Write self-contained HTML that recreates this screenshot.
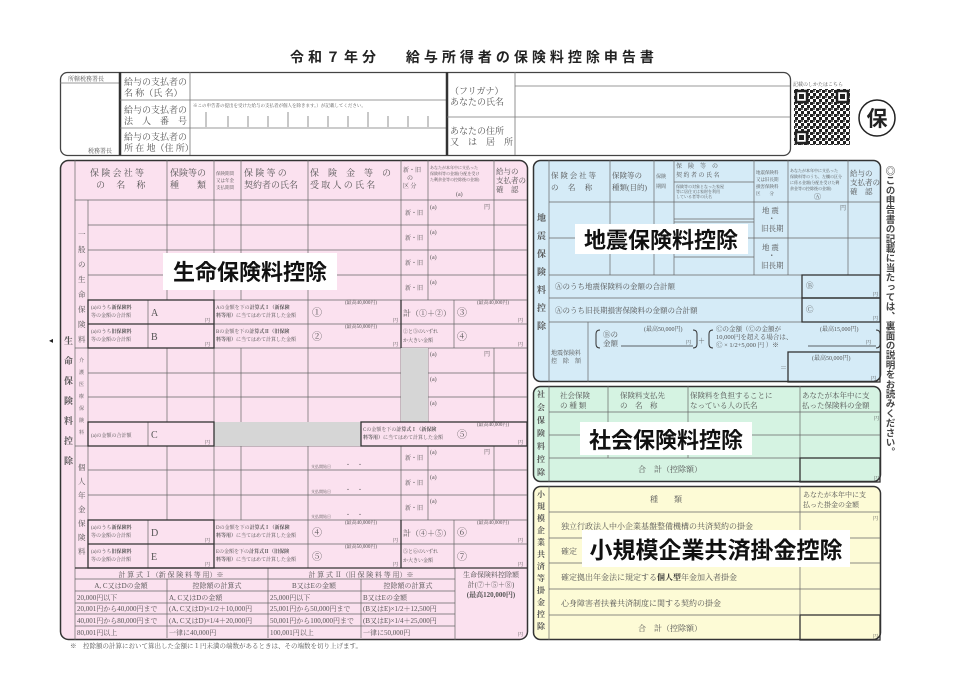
<!DOCTYPE html>
<html><head><meta charset="utf-8"><style>
html,body{margin:0;padding:0;background:#fff;width:960px;height:678px;overflow:hidden}
svg{display:block}
text{font-family:"Liberation Serif","Noto Serif CJK SC","Noto Sans CJK JP",serif;fill:#555}
.s{font-size:9px}.xs{font-size:6px}.t{font-size:7.5px}
.big{font-family:"Liberation Sans","Noto Sans CJK JP",sans-serif;font-weight:bold;fill:#111;font-size:22px}
.vl{font-family:"Liberation Sans","Noto Sans CJK JP",sans-serif;font-weight:bold;fill:#333;font-size:9px}
</style></head><body>
<svg width="960" height="678" viewBox="0 0 960 678" xmlns="http://www.w3.org/2000/svg">
<defs>
<pattern id="qr" width="6" height="6" patternUnits="userSpaceOnUse"><rect width="3" height="3" fill="#222"/><rect x="3" y="3" width="3" height="3" fill="#222"/><rect x="3" y="0" width="2" height="2" fill="#666"/></pattern>
</defs>
<!-- Title -->
<text x="474" y="62" text-anchor="middle" style="font-family:'Liberation Sans','Noto Sans CJK JP',sans-serif;font-weight:bold;font-size:14px;fill:#222;letter-spacing:4px">令和７年分　 給与所得者の保険料控除申告書</text>

<!-- Header box -->
<rect x="60.5" y="72.5" width="730" height="83" rx="7" fill="#fff" stroke="#444" stroke-width="1.3"/>
<g stroke="#777" stroke-width="0.8">
<line x1="60" y1="83" x2="120" y2="83"/>
<line x1="120" y1="72" x2="120" y2="155" stroke="#333" stroke-width="2.5"/>
<line x1="190" y1="72" x2="190" y2="155"/>
<line x1="120" y1="100" x2="447" y2="100"/>
<line x1="120" y1="128" x2="447" y2="128"/>
<line x1="447" y1="72" x2="447" y2="155" stroke="#333" stroke-width="2.5"/>
<line x1="515" y1="72" x2="515" y2="155"/>
<line x1="447" y1="117" x2="790" y2="117"/>
<line x1="515" y1="86" x2="790" y2="86"/>
</g>
<g stroke="#777" stroke-width="0.8">
<line x1="206" y1="112" x2="206" y2="127"/><line x1="228" y1="116" x2="228" y2="127"/><line x1="248" y1="116" x2="248" y2="127"/><line x1="268" y1="116" x2="268" y2="127"/><line x1="288" y1="112" x2="288" y2="127"/><line x1="308" y1="116" x2="308" y2="127"/><line x1="328" y1="116" x2="328" y2="127"/><line x1="348" y1="116" x2="348" y2="127"/><line x1="368" y1="112" x2="368" y2="127"/><line x1="388" y1="116" x2="388" y2="127"/><line x1="408" y1="116" x2="408" y2="127"/><line x1="428" y1="116" x2="428" y2="127"/>
</g>
<text x="68" y="81" class="xs">所轄税務署長</text>
<text x="88" y="153" class="xs">税務署長</text>
<text x="124" y="85" class="s">給与の支払者の</text><text x="124" y="96" class="s">名 称（氏 名）</text>
<text x="124" y="113" class="s">給与の支払者の</text><text x="124" y="124" class="s">法　人　番　号</text>
<text x="124" y="140" class="s">給与の支払者の</text><text x="124" y="151" class="s">所 在 地（住 所）</text>
<text x="193" y="107" style="font-size:4.5px">※この申告書の提出を受けた給与の支払者が個人を除きます。）が記載してください。</text>
<text x="450" y="94" class="s">（フリガナ）</text><text x="450" y="105" class="s">あなたの氏名</text>
<text x="450" y="134" class="s">あなたの住所</text><text x="450" y="145" class="s">又　は　居　所</text>

<!-- QR & circle -->
<text x="793" y="86" style="font-size:5px">記載のしかたはこちら</text>
<rect x="794" y="89" width="56" height="56" fill="url(#qr)"/>
<g fill="#fff" stroke="#222" stroke-width="2.5"><rect x="796" y="91" width="11" height="11"/><rect x="837" y="91" width="11" height="11"/><rect x="796" y="132" width="11" height="11"/></g>
<g fill="#222"><rect x="799" y="94" width="5" height="5"/><rect x="840" y="94" width="5" height="5"/><rect x="799" y="135" width="5" height="5"/></g>
<circle cx="877" cy="118" r="18" fill="#fff" stroke="#222" stroke-width="1.5"/>
<text x="877" y="126" text-anchor="middle" style="font-family:'Liberation Sans','Noto Sans CJK JP',sans-serif;font-weight:bold;font-size:21px;fill:#222">保</text>

<!-- PINK -->
<rect x="60.5" y="160.5" width="467" height="479" rx="8" fill="#fbe1ef" stroke="#333" stroke-width="1.5"/>
<g stroke="#666" stroke-width="0.7" fill="none">
<line x1="75" y1="160" x2="75" y2="568"/>
<line x1="75" y1="200" x2="527" y2="200"/>
<line x1="88" y1="200" x2="88" y2="568"/>
<!-- general rows -->
<line x1="88" y1="225" x2="527" y2="225"/><line x1="88" y1="250" x2="527" y2="250"/><line x1="88" y1="275" x2="527" y2="275"/>
<line x1="75" y1="348" x2="527" y2="348"/><line x1="75" y1="446" x2="527" y2="446"/>
<line x1="88" y1="373" x2="527" y2="373"/><line x1="88" y1="397" x2="527" y2="397"/>
<line x1="88" y1="470" x2="527" y2="470"/><line x1="88" y1="495" x2="527" y2="495"/>
<!-- column lines header+general -->
<line x1="167" y1="160" x2="167" y2="300"/><line x1="214" y1="160" x2="214" y2="300"/><line x1="241" y1="160" x2="241" y2="300"/><line x1="308" y1="160" x2="308" y2="300"/><line x1="401" y1="160" x2="401" y2="300"/><line x1="428" y1="160" x2="428" y2="300"/><line x1="494" y1="160" x2="494" y2="300"/>
<line x1="167" y1="348" x2="167" y2="422"/><line x1="214" y1="348" x2="214" y2="422"/><line x1="241" y1="348" x2="241" y2="422"/><line x1="308" y1="348" x2="308" y2="422"/><line x1="401" y1="348" x2="401" y2="422"/><line x1="428" y1="348" x2="428" y2="422"/><line x1="494" y1="348" x2="494" y2="422"/>
<line x1="167" y1="446" x2="167" y2="520"/><line x1="214" y1="446" x2="214" y2="520"/><line x1="241" y1="446" x2="241" y2="520"/><line x1="308" y1="446" x2="308" y2="520"/><line x1="401" y1="446" x2="401" y2="520"/><line x1="428" y1="446" x2="428" y2="520"/><line x1="494" y1="446" x2="494" y2="520"/>
<!-- AB / DE -->
<line x1="148" y1="300" x2="148" y2="348"/><line x1="308" y1="300" x2="308" y2="348"/><line x1="454" y1="300" x2="454" y2="348"/>
<line x1="148" y1="520" x2="148" y2="568"/><line x1="308" y1="520" x2="308" y2="568"/><line x1="454" y1="520" x2="454" y2="568"/>
<line x1="148" y1="422" x2="148" y2="446"/>
<line x1="214" y1="520" x2="527" y2="520"/><line x1="214" y1="544" x2="527" y2="544"/>
<line x1="214" y1="300" x2="527" y2="300"/><line x1="214" y1="324" x2="527" y2="324"/>
<!-- bottom table -->
<line x1="167" y1="579" x2="167" y2="638"/><line x1="268" y1="568" x2="268" y2="638"/><line x1="361" y1="579" x2="361" y2="638"/><line x1="455" y1="568" x2="455" y2="640"/>
<line x1="75" y1="579" x2="455" y2="579"/><line x1="75" y1="591" x2="455" y2="591"/><line x1="75" y1="603" x2="455" y2="603"/><line x1="75" y1="614" x2="455" y2="614"/><line x1="75" y1="626" x2="455" y2="626"/>
<line x1="75" y1="568" x2="75" y2="640"/>
</g>
<rect x="401" y="348" width="27" height="74" fill="#d6d6d6"/>
<rect x="214" y="422" width="147" height="24" fill="#d6d6d6"/>
<g stroke="#333" stroke-width="1.3" fill="none">
<rect x="88" y="300" width="126" height="48"/><line x1="88" y1="324" x2="214" y2="324"/>
<rect x="88" y="520" width="126" height="48"/><line x1="88" y1="544" x2="214" y2="544"/>
<rect x="88" y="422" width="126" height="24"/>
<rect x="361" y="422" width="166" height="24"/>
<line x1="401" y1="300" x2="401" y2="348"/><line x1="401" y1="520" x2="401" y2="568"/>
<line x1="75" y1="568" x2="527" y2="568"/>
</g>
<!-- pink header texts -->
<text x="90" y="176" class="s">保 険 会 社 等</text><text x="96" y="188" class="s">の　 名　 称</text>
<text x="170" y="176" class="s">保険等の</text><text x="170" y="188" class="s">種　　類</text>
<text x="216" y="175" style="font-size:4.5px">保険期間</text><text x="216" y="182" style="font-size:4.5px">又は年金</text><text x="216" y="189" style="font-size:4.5px">支払期間</text>
<text x="244" y="176" class="s">保 険 等 の</text><text x="244" y="188" class="s">契約者の氏名</text>
<text x="310" y="176" class="s">保　険　金　等　の</text><text x="310" y="188" class="s">受 取 人 の 氏 名</text>
<text x="403" y="172" class="xs">新・旧</text><text x="407" y="180" class="xs">の</text><text x="403" y="188" class="xs">区 分</text>
<text x="430" y="169" style="font-size:4px">あなたが本年中に支払った</text><text x="430" y="175" style="font-size:4px">保険料等の金額(分配を受け</text><text x="430" y="181" style="font-size:4px">た剰余金等の控除後の金額)</text><text x="456" y="196" class="xs">(a)</text>
<text x="496" y="174" class="t">給与の</text><text x="496" y="183" class="t">支払者の</text><text x="496" y="192" class="t">確　認</text>
<!-- 新旧 -->
<g class="xs"><text x="405" y="215">新・旧</text><text x="405" y="240">新・旧</text><text x="405" y="265">新・旧</text><text x="405" y="290">新・旧</text>
<text x="405" y="460">新・旧</text><text x="405" y="485">新・旧</text><text x="405" y="510">新・旧</text>
<text x="430" y="209">(a)</text><text x="430" y="234">(a)</text><text x="430" y="259">(a)</text><text x="430" y="284">(a)</text>
<text x="430" y="356">(a)</text><text x="430" y="381">(a)</text><text x="430" y="405">(a)</text>
<text x="430" y="454">(a)</text><text x="430" y="479">(a)</text><text x="430" y="503">(a)</text>
<text x="484" y="209">円</text><text x="484" y="356">円</text><text x="484" y="454">円</text>
<text x="311" y="468" style="font-size:4px">支払開始日</text><text x="345" y="467">・　・</text>
<text x="311" y="493" style="font-size:4px">支払開始日</text><text x="345" y="492">・　・</text>
<text x="311" y="518" style="font-size:4px">支払開始日</text><text x="345" y="517">・　・</text>
</g>
<!-- vertical labels -->
<g class="t"><text x="78" y="237">一</text><text x="78" y="252">般</text><text x="78" y="267">の</text><text x="78" y="282">生</text><text x="78" y="297">命</text><text x="78" y="312">保</text><text x="78" y="327">険</text><text x="78" y="342">料</text>
<text x="79" y="362" style="font-size:5px">介</text><text x="79" y="374" style="font-size:5px">護</text><text x="79" y="386" style="font-size:5px">医</text><text x="79" y="398" style="font-size:5px">療</text><text x="79" y="410" style="font-size:5px">保</text><text x="79" y="422" style="font-size:5px">険</text><text x="79" y="434" style="font-size:5px">料</text>
<text x="78" y="470">個</text><text x="78" y="484">人</text><text x="78" y="498">年</text><text x="78" y="512">金</text><text x="78" y="526">保</text><text x="78" y="540">険</text><text x="78" y="554">料</text></g>
<g class="vl"><text x="64" y="344">生</text><text x="64" y="364">命</text><text x="64" y="384">保</text><text x="64" y="404">険</text><text x="64" y="424">料</text><text x="64" y="444">控</text><text x="64" y="464">除</text></g>
<text x="49" y="343" style="font-size:8px;fill:#222">◂</text>
<!-- A B etc -->
<g style="font-size:5px">
<text x="91" y="309">(a)のうち<tspan font-weight="bold">新保険料</tspan></text><text x="91" y="317">等の金額の合計額</text>
<text x="91" y="333">(a)のうち<tspan font-weight="bold">旧保険料</tspan></text><text x="91" y="341">等の金額の合計額</text>
<text x="91" y="437">(a)の金額の合計額</text>
<text x="91" y="529">(a)のうち<tspan font-weight="bold">新保険料</tspan></text><text x="91" y="537">等の金額の合計額</text>
<text x="91" y="553">(a)のうち<tspan font-weight="bold">旧保険料</tspan></text><text x="91" y="561">等の金額の合計額</text>
<text x="216" y="309">Aの金額を下の<tspan font-weight="bold">計算式Ⅰ（新保険</tspan></text><text x="216" y="317"><tspan font-weight="bold">料等用）</tspan>に当てはめて計算した金額</text>
<text x="216" y="333">Bの金額を下の<tspan font-weight="bold">計算式Ⅱ（旧保険</tspan></text><text x="216" y="341"><tspan font-weight="bold">料等用）</tspan>に当てはめて計算した金額</text>
<text x="363" y="431">Cの金額を下の<tspan font-weight="bold">計算式Ⅰ（新保険</tspan></text><text x="363" y="439"><tspan font-weight="bold">料等用）</tspan>に当てはめて計算した金額</text>
<text x="216" y="529">Dの金額を下の<tspan font-weight="bold">計算式Ⅰ（新保険</tspan></text><text x="216" y="537"><tspan font-weight="bold">料等用）</tspan>に当てはめて計算した金額</text>
<text x="216" y="553">Eの金額を下の<tspan font-weight="bold">計算式Ⅱ（旧保険</tspan></text><text x="216" y="561"><tspan font-weight="bold">料等用）</tspan>に当てはめて計算した金額</text>
<text x="345" y="304">(最高40,000円)</text><text x="345" y="328">(最高50,000円)</text>
<text x="345" y="524">(最高40,000円)</text><text x="345" y="548">(最高50,000円)</text>
<text x="477" y="304">(最高40,000円)</text><text x="477" y="426">(最高40,000円)</text><text x="477" y="524">(最高40,000円)</text>
<text x="205" y="322">円</text><text x="205" y="346">円</text><text x="205" y="444">円</text><text x="205" y="542">円</text><text x="205" y="566">円</text>
<text x="393" y="322">円</text><text x="393" y="346">円</text><text x="393" y="542">円</text><text x="393" y="566">円</text>
<text x="518" y="322">円</text><text x="518" y="346">円</text><text x="518" y="444">円</text><text x="518" y="542">円</text><text x="518" y="566">円</text>
<text x="403" y="333">②と③のいずれ</text><text x="403" y="342">か大きい金額</text>
<text x="403" y="553">⑤と⑥のいずれ</text><text x="403" y="562">か大きい金額</text>
</g>
<g style="font-size:10px"><text x="151" y="316">A</text><text x="151" y="340">B</text><text x="151" y="438">C</text><text x="151" y="536">D</text><text x="151" y="560">E</text>
<text x="312" y="316">①</text><text x="312" y="340">②</text><text x="312" y="536">④</text><text x="312" y="560">⑤</text>
<text x="457" y="316">③</text><text x="457" y="340">④</text><text x="457" y="438">⑤</text><text x="457" y="536">⑥</text><text x="457" y="560">⑦</text>
<text x="403" y="316" style="font-size:8px">計（①＋②）</text><text x="403" y="536" style="font-size:8px">計（④＋⑤）</text></g>
<!-- bottom table text -->
<g style="font-size:7px">
<text x="171" y="577" text-anchor="middle">計 算 式 Ⅰ（新 保 険 料 等 用）※</text>
<text x="361" y="577" text-anchor="middle">計 算 式 Ⅱ（旧 保 険 料 等 用）※</text>
<text x="121" y="588" text-anchor="middle">A, C又はDの金額</text><text x="217" y="588" text-anchor="middle">控除額の計算式</text>
<text x="314" y="588" text-anchor="middle">B又はEの金額</text><text x="408" y="588" text-anchor="middle">控除額の計算式</text>
<text x="77" y="600">20,000円以下</text><text x="169" y="600">A, C又はDの金額</text><text x="270" y="600">25,000円以下</text><text x="363" y="600">B又はEの金額</text>
<text x="77" y="611">20,001円から40,000円まで</text><text x="169" y="611">(A, C又はD)×1/2＋10,000円</text><text x="270" y="611">25,001円から50,000円まで</text><text x="363" y="611">(B又はE)×1/2＋12,500円</text>
<text x="77" y="623">40,001円から80,000円まで</text><text x="169" y="623">(A, C又はD)×1/4＋20,000円</text><text x="270" y="623">50,001円から100,000円まで</text><text x="363" y="623">(B又はE)×1/4＋25,000円</text>
<text x="77" y="635">80,001円以上</text><text x="169" y="635">一律に40,000円</text><text x="270" y="635">100,001円以上</text><text x="363" y="635">一律に50,000円</text>
<text x="491" y="577" text-anchor="middle">生命保険料控除額</text><text x="491" y="587" text-anchor="middle">計(⑦＋⑤＋⑧)</text>
<text x="491" y="597" text-anchor="middle" font-weight="bold">(最高120,000円)</text><text x="518" y="636" style="font-size:5px">円</text>
</g>
<text x="70" y="648" style="font-size:6.5px">※　控除額の計算において算出した金額に１円未満の端数があるときは、その端数を切り上げます。</text>

<!-- BLUE -->
<rect x="533.5" y="160.5" width="347" height="221" rx="7" fill="#d5ebf7" stroke="#333" stroke-width="1.5"/>
<g stroke="#666" stroke-width="0.7">
<line x1="549" y1="160" x2="549" y2="382"/>
<line x1="549" y1="202" x2="880" y2="202"/>
<line x1="610" y1="160" x2="610" y2="275"/><line x1="654" y1="160" x2="654" y2="275"/><line x1="674" y1="160" x2="674" y2="275"/><line x1="754" y1="160" x2="754" y2="275"/><line x1="788" y1="160" x2="788" y2="275"/><line x1="848" y1="160" x2="848" y2="275"/>
<line x1="674" y1="182" x2="754" y2="182"/>
<line x1="674" y1="219" x2="754" y2="219"/><line x1="674" y1="222" x2="754" y2="222"/><line x1="549" y1="238" x2="880" y2="238"/><line x1="674" y1="257" x2="754" y2="257"/>
<line x1="549" y1="275" x2="880" y2="275"/><line x1="549" y1="298" x2="880" y2="298"/><line x1="549" y1="322" x2="880" y2="322"/>
<line x1="588" y1="322" x2="588" y2="382"/>
</g>
<g stroke="#333" stroke-width="1.3" fill="none"><rect x="802" y="275" width="78" height="23"/><rect x="802" y="298" width="78" height="24"/><rect x="788" y="352" width="92" height="30"/>
<path d="M600,330 q-4,0 -4,4 v10 q0,4 4,4 M693,330 q4,0 4,4 v10 q0,4 -4,4 M713,330 q-4,0 -4,4 v10 q0,4 4,4 M876,330 q4,0 4,4 v10 q0,4 -4,4" stroke-width="1"/>
<line x1="621" y1="346" x2="693" y2="346" stroke-width="0.7"/><line x1="808" y1="346" x2="876" y2="346" stroke-width="0.7"/></g>
<g class="t">
<text x="551" y="178">保 険 会 社 等</text><text x="551" y="190">の　 名　 称</text>
<text x="612" y="178">保険等の</text><text x="612" y="190">種類(目的)</text>
<text x="656" y="178" style="font-size:5px">保険</text><text x="656" y="188" style="font-size:5px">期間</text>
<text x="676" y="168" style="font-size:6px">保　険　等　の</text><text x="676" y="177" style="font-size:6px">契 約 者 の 氏 名</text>
<text x="676" y="188" style="font-size:4px">保険等の対象となった家屋</text><text x="676" y="193" style="font-size:4px">等に居住又は家財を利用</text><text x="676" y="198" style="font-size:4px">している者等の氏名</text>
<text x="756" y="174" style="font-size:4.5px">地震保険料</text><text x="756" y="181" style="font-size:4.5px">又は旧長期</text><text x="756" y="188" style="font-size:4.5px">損害保険料</text><text x="756" y="195" style="font-size:4.5px">区　　分</text>
<text x="790" y="172" style="font-size:4px">あなたが本年中に支払った</text><text x="790" y="178" style="font-size:4px">保険料等のうち、左欄の区分</text><text x="790" y="184" style="font-size:4px">に係る金額(分配を受けた剰</text><text x="790" y="190" style="font-size:4px">余金等の控除後の金額)</text><text x="814" y="199" style="font-size:7px">Ⓐ</text>
<text x="850" y="176">給与の</text><text x="850" y="185">支払者の</text><text x="850" y="194">確　認</text>
<text x="762" y="213">地 震</text><text x="768" y="221">・</text><text x="761" y="231">旧長期</text>
<text x="762" y="250">地 震</text><text x="768" y="258">・</text><text x="761" y="268">旧長期</text>
<text x="840" y="210" style="font-size:6px">円</text>
<text x="555" y="289">Ⓐのうち地震保険料の金額の合計額</text>
<text x="555" y="313">Ⓐのうち旧長期損害保険料の金額の合計額</text>
<text x="806" y="288">Ⓑ</text><text x="806" y="312">Ⓒ</text><text x="873" y="296" style="font-size:5px">円</text><text x="873" y="320" style="font-size:5px">円</text>
<text x="551" y="355" style="font-size:6px">地震保険料</text><text x="551" y="363" style="font-size:6px">控　除　額</text>
<text x="603" y="337">Ⓑの</text><text x="603" y="346">金額</text><text x="644" y="331" style="font-size:6px">(最高50,000円)</text><text x="686" y="344" style="font-size:5px">円</text>
<text x="698" y="343" style="font-size:7px">＋</text>
<text x="716" y="331" style="font-size:6.5px">Ⓒの金額（Ⓒの金額が</text><text x="716" y="339" style="font-size:6.5px">10,000円を超える場合は、</text><text x="716" y="347" style="font-size:6.5px">Ⓒ × 1/2+5,000 円 ）※</text>
<text x="820" y="331" style="font-size:6px">(最高15,000円)</text><text x="866" y="344" style="font-size:5px">円</text>
<text x="780" y="370" style="font-size:7px">＝</text><text x="812" y="360" style="font-size:6px">(最高50,000円)</text><text x="871" y="380" style="font-size:5px">円</text>
</g>
<g class="vl"><text x="537" y="221">地</text><text x="537" y="239">震</text><text x="537" y="257">保</text><text x="537" y="275">険</text><text x="537" y="293">料</text><text x="537" y="311">控</text><text x="537" y="329">除</text></g>

<!-- GREEN -->
<rect x="533.5" y="386.5" width="347" height="95" rx="7" fill="#d5f3e2" stroke="#333" stroke-width="1.5"/>
<g stroke="#666" stroke-width="0.7">
<line x1="549" y1="386" x2="549" y2="482"/><line x1="549" y1="412" x2="880" y2="412"/><line x1="549" y1="435" x2="880" y2="435"/><line x1="549" y1="458" x2="880" y2="458"/>
<line x1="608" y1="386" x2="608" y2="458"/><line x1="688" y1="386" x2="688" y2="458"/><line x1="800" y1="386" x2="800" y2="458"/></g>
<rect x="800" y="458" width="80" height="24" fill="none" stroke="#333" stroke-width="1.3"/>
<g class="t"><text x="560" y="398">社会保険</text><text x="560" y="408">の 種 類</text>
<text x="620" y="398">保険料支払先</text><text x="620" y="408">の　名　称</text>
<text x="690" y="398">保険料を負担することに</text><text x="690" y="408">なっている人の氏名</text>
<text x="802" y="398">あなたが本年中に支</text><text x="802" y="408">払った保険料の金額</text>
<text x="874" y="420" style="font-size:5px">円</text><text x="874" y="480" style="font-size:5px">円</text>
<text x="638" y="472" style="font-size:8px">合　計（控除額）</text></g>
<g class="vl" style="font-size:8px"><text x="537" y="397">社</text><text x="537" y="410">会</text><text x="537" y="423">保</text><text x="537" y="436">険</text><text x="537" y="449">料</text><text x="537" y="462">控</text><text x="537" y="475">除</text></g>

<!-- YELLOW -->
<rect x="533.5" y="486.5" width="347" height="153" rx="7" fill="#fdfbd6" stroke="#333" stroke-width="1.5"/>
<g stroke="#666" stroke-width="0.7">
<line x1="549" y1="486" x2="549" y2="640"/><line x1="549" y1="512" x2="880" y2="512"/><line x1="549" y1="538" x2="880" y2="538"/><line x1="549" y1="563" x2="880" y2="563"/><line x1="549" y1="589" x2="880" y2="589"/>
<line x1="800" y1="486" x2="800" y2="615"/></g>
<rect x="800" y="615" width="80" height="25" fill="none" stroke="#333" stroke-width="1.3"/>
<line x1="549" y1="615" x2="800" y2="615" stroke="#666" stroke-width="0.7"/>
<g class="t" style="font-size:8px"><text x="650" y="502">種　　類</text>
<text x="803" y="497" style="font-size:7px">あなたが本年中に支</text><text x="803" y="507" style="font-size:7px">払った掛金の金額</text>
<text x="561" y="529">独立行政法人中小企業基盤整備機構の共済契約の掛金</text>
<text x="561" y="554">確定</text>
<text x="561" y="580">確定拠出年金法に規定する<tspan font-weight="bold" fill="#333">個人型</tspan>年金加入者掛金</text>
<text x="561" y="606">心身障害者扶養共済制度に関する契約の掛金</text>
<text x="638" y="631">合　計（控除額）</text>
<text x="873" y="520" style="font-size:5px">円</text><text x="873" y="638" style="font-size:5px">円</text></g>
<g class="vl" style="font-size:8px"><text x="537" y="497">小</text><text x="537" y="509">規</text><text x="537" y="521">模</text><text x="537" y="533">企</text><text x="537" y="545">業</text><text x="537" y="557">共</text><text x="537" y="569">済</text><text x="537" y="581">等</text><text x="537" y="593">掛</text><text x="537" y="605">金</text><text x="537" y="617">控</text><text x="537" y="629">除</text></g>

<!-- overlays -->
<rect x="163" y="253" width="174" height="37" fill="#fff"/><text x="250" y="280" text-anchor="middle" class="big">生命保険料控除</text>
<rect x="575" y="224" width="173" height="30" fill="#fff"/><text x="661" y="248" text-anchor="middle" class="big">地震保険料控除</text>
<rect x="580" y="422" width="172" height="33" fill="#fff"/><text x="666" y="448" text-anchor="middle" class="big">社会保険料控除</text>
<rect x="582" y="530" width="268" height="37" fill="#fff"/><text x="716" y="558" text-anchor="middle" class="big" style="font-size:23px">小規模企業共済掛金控除</text>

<!-- right vertical note -->
<text x="889" y="166" style="writing-mode:vertical-rl;font-family:'Liberation Sans','Noto Sans CJK JP',sans-serif;font-size:9.5px;font-weight:bold;fill:#444;letter-spacing:0.2px">◎この申告書の記載に当たっては、裏面の説明をお読みください。</text>
</svg>
</body></html>
